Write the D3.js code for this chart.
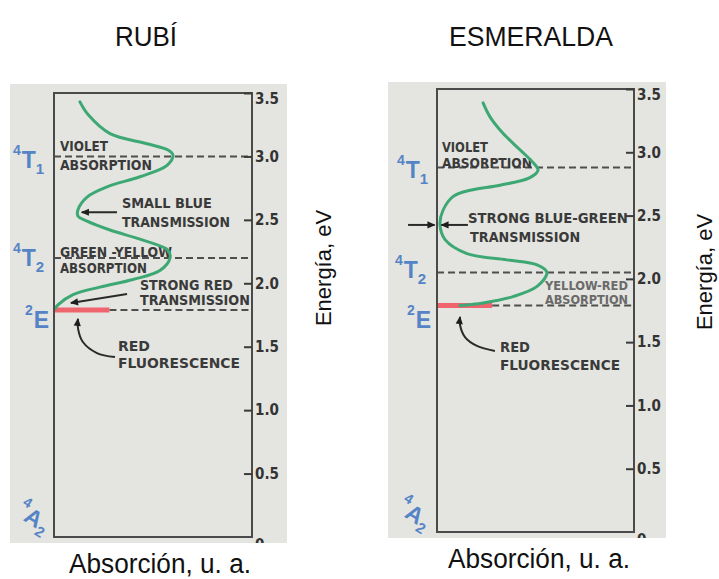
<!DOCTYPE html>
<html><head><meta charset="utf-8">
<script src="https://cdn.jsdelivr.net/npm/d3@7"></script>
<style>body{margin:0;background:#fff}svg{display:block}</style>
</head><body>
<svg id="c" width="719" height="579"></svg>
<script>
// ---------------- DATA ----------------
const panelTitles = ["RUBÍ", "ESMERALDA"];
const xAxisTitle = "Absorción, u. a.";
const yAxisTitle = "Energía, eV";
const energyTicks = [0, 0.5, 1.0, 1.5, 2.0, 2.5, 3.0, 3.5];
const energyDomain = [0, 3.5];
const absorptionDomain = [0, 1];

// absorption curve (arbitrary units, eV)
const rubyAbsorption = [0.131,0.172,0.283,0.470,0.576,0.601,0.571,0.434,0.268,0.167,0.121,0.121,0.167,0.283,0.449,0.576,0.586,0.535,0.399,0.232,0.096,0.020,0.005];
const rubyEnergy     = [3.43,3.33,3.18,3.10,3.05,3.01,2.93,2.84,2.76,2.68,2.58,2.53,2.49,2.42,2.34,2.26,2.20,2.10,2.03,1.97,1.91,1.83,1.80];
const emeraldAbsorption = [0.234,0.269,0.335,0.421,0.487,0.513,0.472,0.320,0.168,0.081,0.030,0.015,0.041,0.152,0.355,0.508,0.558,0.508,0.386,0.234,0.117];
const emeraldEnergy     = [3.39,3.28,3.15,3.02,2.92,2.86,2.80,2.74,2.70,2.65,2.54,2.43,2.31,2.20,2.15,2.11,2.05,1.94,1.86,1.81,1.79];

// energy levels 4T1, 4T2, 2E (eV)
const rubyLevels = [3.0, 2.2, 1.79];
const emeraldLevels = [2.88, 2.05, 1.79];
const fluorescenceExtent = [0.28, 0.28];
const levelNames = [["4","T","1"], ["4","T","2"], ["2","E",""], ["4","A","2"]];

const rubyNoteText = ["VIOLET","ABSORPTION","SMALL BLUE","TRANSMISSION","GREEN -YELLOW","ABSORPTION","STRONG RED","TRANSMISSION","RED","FLUORESCENCE"];
const emeraldNoteText = ["VIOLET","ABSORPTION","STRONG BLUE-GREEN","TRANSMISSION","YELLOW-RED","ABSORPTION","RED","FLUORESCENCE"];

// ---------------- LAYOUT ----------------
const panels = [
  { title: panelTitles[0], bg:[10,84,277,459], xr:[54,252], yr:[537,93],
    curveA: rubyAbsorption, curveE: rubyEnergy, levels: rubyLevels, fl: fluorescenceExtent[0],
    levelLabelE: [2.91, 2.14, 1.65, 0.17], levelLabelDx: [-41,-41,-29,-39],
    notes: rubyNoteText,
    noteAnchor: [[0.03,3.04,48],[0.03,2.89,92],[0.343,2.59,90],[0.343,2.44,108],[0.03,2.21,112],[0.03,2.08,87],[0.434,1.95,93],[0.434,1.83,110],[0.323,1.47,32],[0.323,1.33,122]],
    noteFaint: [],
    arrows: [ [[0.318,2.56],[0.140,2.56]], [[0.369,1.915],[0.085,1.845]], [[0.308,1.418],[0.217,1.45],[0.146,1.537],[0.121,1.647],[0.121,1.72]] ],
    titleX: 146, titleY: 46, titleW: 62, xtX: 160, xtY: 573, xtW: 182, ytX: 331, ytY: 268 },
  { title: panelTitles[1], bg:[388,82,278,456], xr:[437,634], yr:[532,89],
    curveA: emeraldAbsorption, curveE: emeraldEnergy, levels: emeraldLevels, fl: fluorescenceExtent[1],
    levelLabelE: [2.80, 2.01, 1.61, 0.16], levelLabelDx: [-40,-42,-30,-41],
    notes: emeraldNoteText,
    noteAnchor: [[0.025,3.00,46],[0.025,2.876,90],[0.157,2.44,160],[0.168,2.29,110],[0.548,1.91,83],[0.548,1.80,83],[0.32,1.42,30],[0.32,1.28,120]],
    noteFaint: [4,5],
    arrows: [ [[-0.147,2.426],[-0.012,2.426]], [[0.157,2.426],[0.022,2.426]], [[0.294,1.43],[0.203,1.47],[0.142,1.54],[0.117,1.635],[0.117,1.70]] ],
    titleX: 531, titleY: 46, titleW: 164, xtX: 539, xtY: 568, xtW: 182, ytX: 712, ytY: 272 }
];

const svg = d3.select("#c");
const defs = svg.append("defs");
defs.append("marker").attr("id","ah").attr("viewBox","0 0 10 10").attr("refX",9).attr("refY",5)
  .attr("markerWidth",9).attr("markerHeight",8).attr("markerUnits","userSpaceOnUse").attr("orient","auto")
  .append("path").attr("d","M0,0.5 L10,5 L0,9.5 z").attr("fill","#1e1e1e");

panels.forEach((p, pi) => {
  const clipId = "clip" + pi;
  defs.append("clipPath").attr("id", clipId).append("rect")
    .attr("x", p.bg[0]).attr("y", p.bg[1]).attr("width", p.bg[2]).attr("height", p.bg[3]);

  // titles outside panel
  svg.append("text").attr("x", p.titleX).attr("y", p.titleY).attr("text-anchor","middle")
    .attr("font-family","'Liberation Sans', Arial, sans-serif").attr("font-size",27)
    .attr("textLength", p.titleW).attr("lengthAdjust","spacingAndGlyphs")
    .attr("fill","#111").text(p.title);
  svg.append("text").attr("x", p.xtX).attr("y", p.xtY).attr("text-anchor","middle")
    .attr("font-family","'Liberation Sans', Arial, sans-serif").attr("font-size",27)
    .attr("textLength", p.xtW).attr("lengthAdjust","spacingAndGlyphs")
    .attr("fill","#111").text(xAxisTitle);
  svg.append("text").attr("transform", `translate(${p.ytX},${p.ytY}) rotate(-90)`).attr("text-anchor","middle")
    .attr("font-family","'Liberation Sans', Arial, sans-serif").attr("font-size",22)
    .attr("fill","#111").text(yAxisTitle);

  const g = svg.append("g").attr("clip-path", `url(#${clipId})`);
  g.append("rect").attr("x", p.bg[0]).attr("y", p.bg[1]).attr("width", p.bg[2]).attr("height", p.bg[3])
    .attr("fill", "#e4e5e0");

  const x = d3.scaleLinear().domain(absorptionDomain).range(p.xr);
  const y = d3.scaleLinear().domain(energyDomain).range(p.yr);

  // dashed energy levels
  p.levels.forEach((E, i) => {
    const a0 = i === p.levels.length - 1 ? p.fl : 0;
    g.append("line").attr("x1", x(a0)).attr("x2", x(1)).attr("y1", y(E)).attr("y2", y(E))
      .attr("stroke", "#4e4e4e").attr("stroke-width", 2).attr("stroke-dasharray", "7,4");
  });

  // notes
  p.notes.forEach((t, i) => {
    const [a, e, w] = p.noteAnchor[i];
    const faint = p.noteFaint.includes(i);
    g.append("text").attr("x", x(a)).attr("y", y(e))
      .attr("font-family", "'DejaVu Sans Condensed','DejaVu Sans',sans-serif").attr("font-weight","bold")
      .attr("font-size", faint ? 13 : 14.5).attr("fill", faint ? "#6a6a6a" : "#3a3a3a")
      .attr("textLength", w).attr("lengthAdjust","spacingAndGlyphs").text(t);
  });

  // red fluorescence line
  const lastE = p.levels[p.levels.length - 1];
  g.append("line").attr("x1", x(0)).attr("x2", x(p.fl)).attr("y1", y(lastE)).attr("y2", y(lastE))
    .attr("stroke", "#f0656d").attr("stroke-width", 5);

  // absorption curve
  const pts = p.curveA.map((a, i) => [a, p.curveE[i]]);
  g.append("path").datum(pts)
    .attr("d", d3.line().x(d => x(d[0])).y(d => y(d[1])).curve(d3.curveCatmullRom.alpha(0.5)))
    .attr("fill","none").attr("stroke","#3da874").attr("stroke-width",3).attr("stroke-linecap","round");

  // box
  g.append("rect").attr("x", x(0)).attr("y", y(3.5)).attr("width", x(1) - x(0)).attr("height", y(0) - y(3.5))
    .attr("fill","none").attr("stroke","#4a4a4a").attr("stroke-width",2);

  // energy axis on right
  const ax = d3.axisRight(y).tickValues(energyTicks).tickFormat(d => d === 0 ? "0" : d3.format(".1f")(d))
    .tickSizeInner(-8).tickSizeOuter(0).tickPadding(3);
  const axg = g.append("g").attr("transform", `translate(${x(1)},0)`).call(ax);
  axg.select(".domain").remove();
  axg.selectAll(".tick line").attr("stroke","#3a3a3a").attr("stroke-width",2);
  axg.selectAll(".tick text").attr("fill","#333").attr("font-size",15).attr("font-weight","bold")
    .attr("font-family","'DejaVu Sans Condensed','DejaVu Sans',sans-serif");
  axg.selectAll(".tick").filter(d => d === 3.5).select("text").attr("dy","0.72em");
  axg.selectAll(".tick").filter(d => d === 0).select("line").remove();
  axg.selectAll(".tick").filter(d => d === 0).select("text").attr("dy","0.85em");

  // arrows
  p.arrows.forEach(arr => {
    g.append("path").datum(arr)
      .attr("d", d3.line().x(d => x(d[0])).y(d => y(d[1])).curve(d3.curveCatmullRom.alpha(0.5)))
      .attr("fill","none").attr("stroke","#2a2a2a").attr("stroke-width",2).attr("marker-end","url(#ah)");
  });

  // level labels
  levelNames.forEach((nm, i) => {
    const bx = x(0) + p.levelLabelDx[i], by = y(p.levelLabelE[i]);
    const t = g.append("text").attr("x", bx).attr("y", by).attr("font-weight","bold")
      .attr("font-family","'Liberation Sans', Arial, sans-serif").attr("fill","#5584c6");
    if (i === 3) t.attr("transform", `rotate(32,${bx},${by})`);
    t.append("tspan").attr("font-size",14).attr("dy",-13).text(nm[0]);
    t.append("tspan").attr("font-size",23).attr("dx",1).attr("dy",13).text(nm[1]);
    if (nm[2]) t.append("tspan").attr("font-size",15).attr("dy",6).text(nm[2]);
  });
});
</script>
</body></html>
